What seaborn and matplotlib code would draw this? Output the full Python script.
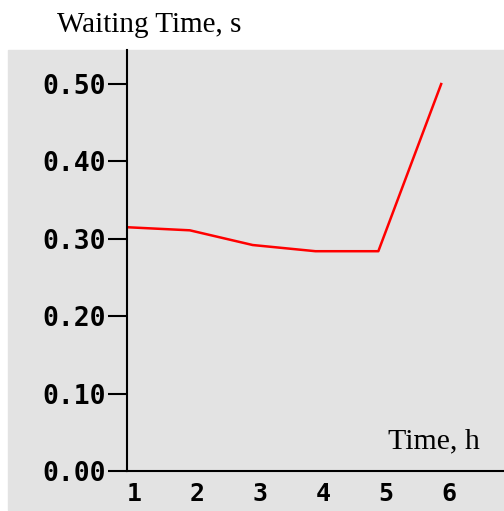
import matplotlib
matplotlib.use("Agg")
import matplotlib.pyplot as plt
import seaborn as sns
import pandas as pd
from matplotlib.patches import Rectangle

hours = [1, 2, 3, 4, 5, 6]
wait_s = [0.315, 0.311, 0.292, 0.284, 0.284, 0.50]
yticks = [0.0, 0.1, 0.2, 0.3, 0.4, 0.5]

df = pd.DataFrame({"hour": hours, "wait": wait_s})

W, H = 504, 511
fig = plt.figure(figsize=(W / 100, H / 100), dpi=100)
fig.patch.set_facecolor("white")
gray = "#e3e3e3"
fig.patches.append(Rectangle((8 / W, 1 / H), 1, (510 - 50) / H,
                             transform=fig.transFigure, color=gray, zorder=-5))

ax = fig.add_axes([127 / W, (H - 471) / H, 1 - 127 / W, (471 - 50) / H])
ax.set_zorder(2)
ax.set_facecolor(gray)

sns.lineplot(data=df, x="hour", y="wait", color="red", linewidth=1.8, ax=ax)

ax.set_xlim(1, 7)
ax.set_ylim(0, 0.544)
ax.set_xlabel("")
ax.set_ylabel("")
for s in ["top", "right"]:
    ax.spines[s].set_visible(False)
for s in ["left", "bottom"]:
    ax.spines[s].set_color("black")
    ax.spines[s].set_linewidth(1.5)

mono = dict(family="DejaVu Sans Mono", weight="bold", size=19)
ax.set_yticks(yticks)
ax.set_yticklabels([f"{v:.2f}" for v in yticks], **mono)
ax.tick_params(axis="y", length=14, width=1.5, pad=1, color="black")
ax.set_xticks(hours)
ax.set_xticklabels([str(h) for h in hours], ha="left", **dict(mono, size=18))
ax.tick_params(axis="x", length=0, pad=8)

fig.text(57 / W, 1 - 32 / H, "Waiting Time, s", family="Liberation Serif",
         size=21, va="baseline", ha="left")
ax.text(388 / W, 1 - 448 / H, "Time, h", family="Liberation Serif",
        size=21.5, va="baseline", ha="left", transform=fig.transFigure)

fig.savefig("out.png", dpi=100)
